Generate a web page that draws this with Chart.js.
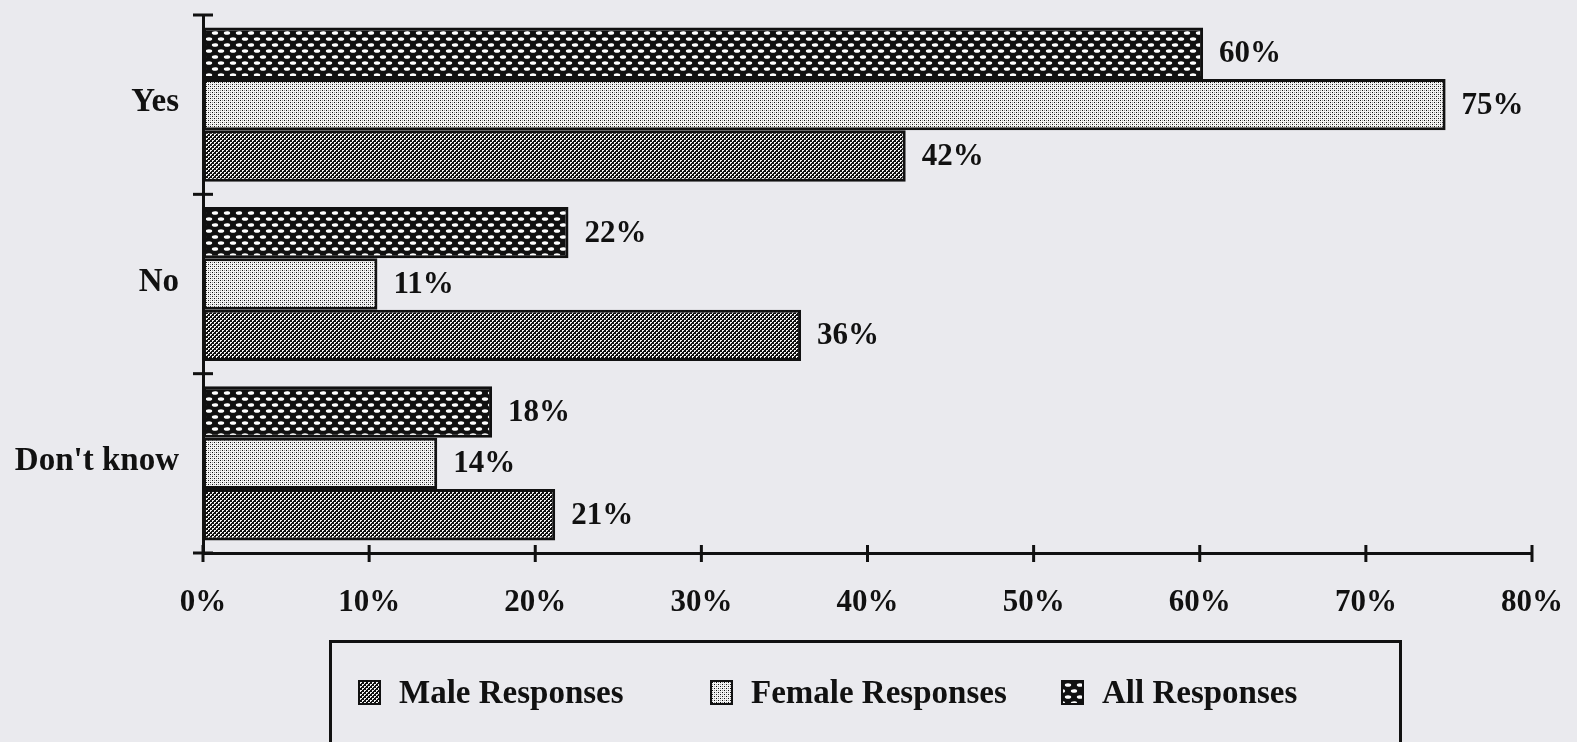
<!DOCTYPE html>
<html>
<head>
<meta charset="utf-8">
<script src="https://cdn.jsdelivr.net/npm/chart.js@4"></script>
<style>
  html, body { margin: 0; padding: 0; background: #eaeaee; overflow: hidden; }
  #wrap { position: relative; width: 1577px; height: 742px; }
  #legend {
    position: absolute; left: 329px; top: 640px; width: 1073px; height: 120px;
    border: 3px solid #111; box-sizing: border-box;
    font-family: "Liberation Serif", serif; font-weight: bold; font-size: 33px; color: #111;
  }
  .item { position: absolute; top: 31px; display: flex; align-items: center; white-space: nowrap; }
  .item canvas { border: 2px solid #111; margin-right: 18px; }
</style>
</head>
<body>
<div id="wrap">
  <canvas id="myChart" width="1577" height="742"></canvas>
  <div id="legend"></div>
</div>
<script>
var categories = ["Yes", "No", "Don't know"];

var allValues = [60.2, 22, 17.4];
var femaleValues = [74.8, 10.5, 14.1];
var maleValues = [42.3, 36, 21.2];

var allLabels = ["60%", "22%", "18%"];
var femaleLabels = ["75%", "11%", "14%"];
var maleLabels = ["42%", "36%", "21%"];

var xTicks = [0, 10, 20, 30, 40, 50, 60, 70, 80];

var FONT = '"Liberation Serif", serif';

// fill patterns
function makeTile(w, h, draw) {
  var c = document.createElement("canvas");
  c.width = w; c.height = h;
  draw(c.getContext("2d"));
  return c;
}
var allTile = makeTile(12, 12, function (g) {
  g.fillStyle = "#111"; g.fillRect(0, 0, 12, 12);
  g.fillStyle = "#fff";
  [[5, 3], [11, 9], [-1, 9]].forEach(function (p) {
    g.beginPath(); g.ellipse(p[0], p[1], 3.2, 1.8, 0, 0, Math.PI * 2); g.fill();
  });
});
var femaleTile = makeTile(4, 4, function (g) {
  g.fillStyle = "#f4f4f4"; g.fillRect(0, 0, 4, 4);
  g.fillStyle = "#111";
  g.fillRect(0, 0, 1, 1); g.fillRect(2, 2, 1, 1);
  g.fillStyle = "#999";
  g.fillRect(2, 0, 1, 1); g.fillRect(0, 2, 1, 1);
});
var maleTile = makeTile(4, 4, function (g) {
  g.fillStyle = "#111"; g.fillRect(0, 0, 4, 4);
  g.fillStyle = "#f4f4f4";
  g.fillRect(0, 0, 2, 1); g.fillRect(0, 1, 1, 1);
  g.fillRect(2, 2, 2, 1); g.fillRect(2, 3, 1, 1);
});

var ctx = document.getElementById("myChart").getContext("2d");
var allPattern = ctx.createPattern(allTile, "repeat");
var femalePattern = ctx.createPattern(femaleTile, "repeat");
var malePattern = ctx.createPattern(maleTile, "repeat");

var barLabels = [allLabels, femaleLabels, maleLabels];

var valueLabels = {
  id: "valueLabels",
  afterDatasetsDraw: function (chart) {
    var c = chart.ctx;
    c.save();
    c.font = "bold 31px " + FONT;
    c.fillStyle = "#111";
    c.textBaseline = "middle";
    chart.data.datasets.forEach(function (ds, i) {
      chart.getDatasetMeta(i).data.forEach(function (bar, j) {
        c.fillText(barLabels[i][j], bar.x + 16, bar.y + 1);
      });
    });
    c.restore();
  }
};

// tick marks that cross the axis lines
var crossTicks = {
  id: "crossTicks",
  afterDraw: function (chart) {
    var c = chart.ctx, x = chart.scales.x, y = chart.scales.y;
    c.save();
    c.strokeStyle = "#111";
    c.lineWidth = 3;
    xTicks.forEach(function (v) {
      var px = x.getPixelForValue(v);
      c.beginPath(); c.moveTo(px, y.bottom - 8); c.lineTo(px, y.bottom + 9); c.stroke();
    });
    for (var k = 0; k <= categories.length; k++) {
      var py = y.getPixelForValue(k - 0.5);
      c.beginPath(); c.moveTo(x.left - 10, py); c.lineTo(x.left + 10, py); c.stroke();
    }
    c.restore();
  }
};

new Chart(ctx, {
  type: "bar",
  data: {
    labels: categories,
    datasets: [
      { label: "All Responses", data: allValues, backgroundColor: allPattern },
      { label: "Female Responses", data: femaleValues, backgroundColor: femalePattern },
      { label: "Male Responses", data: maleValues, backgroundColor: malePattern },
    ],
  },
  options: {
    indexAxis: "y",
    responsive: false,
    animation: false,
    events: [],
    layout: { padding: { top: 15, right: 45, bottom: 99, left: 0 } },
    datasets: {
      bar: {
        borderColor: "#111",
        borderWidth: 3,
        borderSkipped: false,
        categoryPercentage: 0.86,
        barPercentage: 1.0,
      },
    },
    plugins: {
      legend: { display: false },
      tooltip: { enabled: false },
    },
    scales: {
      x: {
        min: 0,
        max: 80,
        afterFit: function (s) {
          s.height = 90;
          s.paddingLeft = 0;
          s.paddingRight = 0;
        },
        afterBuildTicks: function (s) {
          s.ticks = xTicks.map(function (v) { return { value: v }; });
        },
        grid: { display: false },
        border: { display: true, color: "#111", width: 3 },
        ticks: {
          padding: 23,
          color: "#111",
          font: { family: FONT, size: 31, weight: "bold" },
          callback: function (v) { return v + "%"; },
        },
      },
      y: {
        afterFit: function (s) {
          s.width = 203;
          s.paddingTop = 0;
          s.paddingBottom = 0;
        },
        grid: { display: false },
        border: { display: true, color: "#111", width: 3 },
        ticks: {
          padding: 16,
          labelOffset: -2,
          color: "#111",
          font: { family: FONT, size: 33, weight: "bold" },
        },
      },
    },
  },
  plugins: [valueLabels, crossTicks],
});

// legend in a bordered box
var legendItems = [
  { label: "Male Responses", tile: maleTile, left: 26 },
  { label: "Female Responses", tile: femaleTile, left: 378 },
  { label: "All Responses", tile: allTile, left: 729 },
];
var legendEl = document.getElementById("legend");
legendItems.forEach(function (it) {
  var d = document.createElement("div");
  d.className = "item";
  d.style.left = it.left + "px";
  var sw = document.createElement("canvas");
  sw.width = 19; sw.height = 21;
  var g = sw.getContext("2d");
  g.fillStyle = g.createPattern(it.tile, "repeat");
  g.fillRect(0, 0, 19, 21);
  d.appendChild(sw);
  var t = document.createElement("span");
  t.textContent = it.label;
  d.appendChild(t);
  legendEl.appendChild(d);
});
</script>
</body>
</html>
